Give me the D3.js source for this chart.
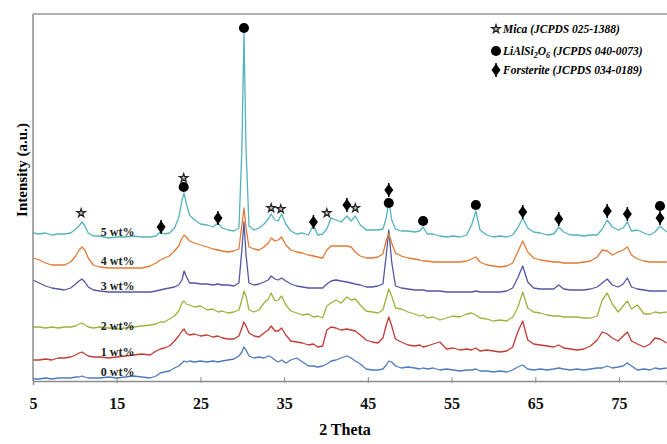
<!DOCTYPE html>
<html>
<head>
<meta charset="utf-8">
<script src="https://cdn.jsdelivr.net/npm/d3@7"></script>
<style>
  body { margin: 0; background: #fff; }
</style>
</head>
<body>
<div class="chart"></div>
<script>
// 2 theta grid shared by all patterns
var twoTheta = [5, 5.75, 6.5, 7.25, 8, 8.75, 9.5, 10.1, 10.5, 10.85, 11.2, 11.6, 12.2, 13, 14, 15, 16, 17, 18, 19,
  19.7, 20.2, 20.7, 21.3, 21.9, 22.4, 22.8, 23.05, 23.3, 23.7,
  24.3, 25, 25.8, 26.5, 27.1, 27.6, 28.3, 29, 29.6, 29.95,
  30.2, 30.45, 30.8, 31.4, 32, 32.6, 33.1, 33.45, 33.9, 34.3,
  34.7, 35.2, 35.8, 36.5, 37.2, 37.9, 38.5, 39, 39.6, 40.1,
  40.6, 41.2, 41.8, 42.5, 43, 43.5, 44.1, 44.8, 45.5, 46.2,
  46.8, 47.2, 47.5, 47.85, 48.3, 49, 49.8, 50.6, 51.2, 51.6,
  52.1, 52.8, 53.6, 54.4, 55.2, 56, 56.8, 57.4, 57.9, 58.4,
  59.2, 60, 60.8, 61.6, 62.3, 62.9, 63.5, 64.1, 64.8, 65.6,
  66.4, 67.2, 67.8, 68.4, 69.2, 70, 70.8, 71.6, 72.4, 73,
  73.6, 74.2, 74.9, 75.5, 76, 76.5, 77.2, 78, 78.7, 79.3,
  79.9, 80.7];

// intensities (a.u., stacked)
var wt0 = [2,2,3,2,3,3,3,4,4,5,4,3,3,3,4,3,4,5,4,3,
  5,8,9,10,13,15,18,20,19,20,
  19,20,19,20,19,20,21,22,25,29,
  34,31,25,23,24,23,25,24,21,19,
  21,18,21,23,19,15,15,14,15,17,
  20,21,23,25,23,20,17,12,11,11,
  12,16,20,19,15,13,14,13,12,13,
  12,13,11,12,11,10,11,11,12,10,
  10,9,10,9,11,14,16,12,11,12,
  11,12,13,12,11,12,11,12,13,13,
  15,13,14,15,18,15,11,12,11,13,
  12,13];
var wt1 = [21,21,22,21,23,23,24,26,28,29,27,25,24,24,23,24,25,26,27,26,
  30,32,33,35,40,45,50,52,48,46,
  47,45,46,44,45,43,42,42,45,53,
  59,55,48,45,44,48,51,55,50,50,
  53,46,40,39,38,36,37,34,35,51,
  54,53,51,52,51,50,46,41,39,38,
  43,56,64,55,42,39,36,35,36,34,
  35,37,39,32,33,31,32,31,33,30,
  31,30,29,30,34,49,60,41,37,36,
  35,34,36,33,32,31,32,35,41,49,
  47,43,40,45,49,40,37,34,37,43,
  42,38];
var wt2 = [54,54,53,54,53,54,54,55,57,58,56,54,53,54,53,52,53,54,55,56,
  57,59,59,62,65,70,78,80,77,76,
  74,75,71,72,69,70,68,69,71,81,
  90,85,71,69,71,78,82,88,80,81,
  85,76,70,68,66,67,64,65,63,75,
  78,81,78,84,81,82,76,70,69,68,
  71,83,92,85,73,72,69,67,65,66,
  63,64,61,63,65,64,67,68,66,63,
  62,60,61,60,64,73,89,73,69,68,
  66,65,65,64,64,64,63,63,65,81,
  88,77,69,75,80,72,76,67,67,69,
  68,69];
var wt3 = [101,98,95,93,92,91,93,97,100,102,99,94,91,90,89,89,89,89,89,89,
  90,91,92,93,94,96,101,110,105,98,
  98,97,97,96,97,96,96,95,98,131,
  159,126,98,96,97,99,101,105,102,101,
  103,100,97,95,94,93,93,93,93,97,
  100,101,100,99,98,97,96,94,94,95,
  97,126,151,119,95,93,92,91,91,91,
  90,90,90,89,89,89,89,89,90,89,
  89,89,89,90,93,103,115,99,93,92,
  92,92,96,92,91,91,91,92,94,98,
  102,96,94,97,103,94,92,91,90,90,
  90,90];
var wt4 = [123,121,118,116,116,116,119,125,131,134,131,123,116,114,113,113,113,113,113,115,
  118,121,123,125,130,135,143,146,144,140,
  138,136,134,132,131,130,129,130,132,156,
  173,153,134,132,131,134,138,143,140,141,
  144,136,131,129,128,126,125,124,123,131,
  135,135,135,135,134,129,125,123,123,124,
  127,141,147,138,128,125,123,122,121,120,
  120,119,119,119,119,119,120,122,124,119,
  116,115,114,115,118,129,140,129,123,121,
  120,119,119,118,118,118,119,120,124,131,
  130,126,129,131,134,126,122,120,119,119,
  119,119];
var wt5 = [148,147,148,146,147,147,148,152,155,159,155,148,145,145,143,144,144,145,144,144,
  145,149,147,148,153,163,181,188,178,166,
  161,157,156,154,158,153,151,150,153,231,
  348,231,155,151,153,157,162,167,161,160,
  167,157,150,147,148,146,156,146,147,152,
  163,161,159,165,160,165,156,151,151,151,
  152,163,181,161,152,150,150,149,150,154,
  147,147,145,144,145,144,146,156,170,151,
  146,144,145,144,146,153,163,153,149,148,
  146,147,154,149,146,146,145,146,146,152,
  161,154,151,153,159,150,151,148,146,149,
  155,149];

var seriesNames = ["0 wt%", "1 wt%", "2 wt%", "3 wt%", "4 wt%", "5 wt%"];
var seriesData = [wt0, wt1, wt2, wt3, wt4, wt5];
var seriesColors = ["#4f7bbd", "#c23b35", "#9fb23e", "#5457a3", "#e27a36", "#55b3bd"];
var labelLevels = [9, 29, 55, 95, 120, 149];

var xTicks = [5, 15, 25, 35, 45, 55, 65, 75];

// phase identification marks [2theta, height]
var micaPeaks = [[10.75, 168], [23.0, 203], [33.45, 173], [34.6, 172], [40.1, 168], [43.5, 173]];
var spodPeaks = [[23.0, 194], [30.2, 353], [47.5, 178], [51.6, 160], [57.9, 176], [79.9, 175]];
var forstPeaks = [[20.3, 154], [27.1, 163], [38.5, 159], [42.5, 176], [47.5, 191], [63.5, 169],
  [67.8, 162], [73.6, 170], [76.0, 167], [79.9, 163]];

var legendItems = ["mica", "spod", "forst"];

var width = 667, height = 444;
var serif = '"Liberation Serif", "Times New Roman", serif';

var svg = d3.select(".chart").append("svg")
  .attr("width", width)
  .attr("height", height)
  .style("font-family", serif)
  .style("font-weight", "bold");

var x = d3.scaleLinear().domain([5, 80.7]).range([33, 666.7]);
var y = d3.scaleLinear().domain([0, 367]).range([381, 14]);

// frame
svg.append("line")
  .attr("x1", 33).attr("x2", width).attr("y1", 14).attr("y2", 14)
  .style("stroke", "#b3b3b3").style("stroke-width", 2);

var line = d3.line()
  .x(function(d, i) { return x(twoTheta[i]); })
  .y(function(d) { return y(d); });

seriesData.forEach(function(vals, k) {
  svg.append("path")
    .datum(vals)
    .attr("d", line)
    .style("fill", "none")
    .style("stroke", seriesColors[k])
    .style("stroke-width", 1.3)
    .style("stroke-linejoin", "round");
});

// axes
var xAxis = d3.axisBottom(x).tickValues(xTicks).tickSize(4).tickFormat(d3.format("d"));
var gx = svg.append("g").attr("transform", "translate(0,381)").call(xAxis)
  .attr("font-family", null).attr("font-size", null);
gx.select(".domain").style("stroke", "#8c8c8c").style("stroke-width", 1.5);
gx.selectAll(".tick line").attr("y1", -4).attr("y2", 2).style("stroke", "#8c8c8c");
gx.selectAll(".tick text")
  .attr("y", 17)
  .style("font-family", serif)
  .style("font-size", "16px")
  .style("font-weight", "bold")
  .style("fill", "#111");

svg.append("line")
  .attr("x1", 33).attr("x2", 33).attr("y1", 14).attr("y2", 381)
  .style("stroke", "#8c8c8c").style("stroke-width", 1.5);

svg.append("text")
  .attr("x", 345).attr("y", 435)
  .attr("text-anchor", "middle")
  .style("font-size", "16px")
  .text("2 Theta");

svg.append("text")
  .attr("transform", "translate(27,170) rotate(-90)")
  .attr("text-anchor", "middle")
  .style("font-size", "15px")
  .text("Intensity (a.u.)");

// series labels
seriesNames.forEach(function(name, k) {
  svg.append("text")
    .attr("x", x(13.1))
    .attr("y", y(labelLevels[k]) + 4)
    .style("font-size", "12px")
    .style("fill", "#222")
    .text(name);
});

// markers
var starSym = d3.symbol().type(d3.symbolStar).size(22);
var circleSym = d3.symbol().type(d3.symbolCircle).size(80);
var diamondSym = d3.symbol().type(d3.symbolDiamond).size(45);

function drawMark(g, kind, cx, cy) {
  if (kind === "mica") {
    g.append("path").attr("d", starSym())
      .attr("transform", "translate(" + cx + "," + cy + ")")
      .style("fill", "#bbb").style("stroke", "#222").style("stroke-width", 1.2);
  } else if (kind === "spod") {
    g.append("path").attr("d", circleSym())
      .attr("transform", "translate(" + cx + "," + cy + ")")
      .style("fill", "#000");
  } else {
    g.append("line")
      .attr("x1", cx).attr("x2", cx).attr("y1", cy - 7).attr("y2", cy + 7)
      .style("stroke", "#000").style("stroke-width", 1.5);
    g.append("path").attr("d", diamondSym())
      .attr("transform", "translate(" + cx + "," + cy + ") scale(1.25,1)")
      .style("fill", "#000");
  }
}

var marks = svg.append("g");
micaPeaks.forEach(function(p) { drawMark(marks, "mica", x(p[0]), y(p[1])); });
spodPeaks.forEach(function(p) { drawMark(marks, "spod", x(p[0]), y(p[1])); });
forstPeaks.forEach(function(p) { drawMark(marks, "forst", x(p[0]), y(p[1])); });

// legend
var legend = svg.append("g").attr("transform", "translate(496,0)");
var legendY = [29, 51, 70];
legendItems.forEach(function(kind, i) {
  drawMark(legend, kind, 0, legendY[i]);
});
var legendText = legend.append("g")
  .style("font-size", "11.5px").style("font-style", "italic");
legendText.append("text").attr("x", 7).attr("y", legendY[0] + 4)
  .text("Mica (JCPDS 025-1388)");
var t2 = legendText.append("text").attr("x", 7).attr("y", legendY[1] + 4);
t2.append("tspan").text("LiAlSi");
t2.append("tspan").attr("dy", 3).style("font-size", "8px").text("2");
t2.append("tspan").attr("dy", -3).text("O");
t2.append("tspan").attr("dy", 3).style("font-size", "8px").text("6");
t2.append("tspan").attr("dy", -3).text(" (JCPDS 040-0073)");
legendText.append("text").attr("x", 7).attr("y", legendY[2] + 4)
  .text("Forsterite (JCPDS 034-0189)");
</script>
</body>
</html>
